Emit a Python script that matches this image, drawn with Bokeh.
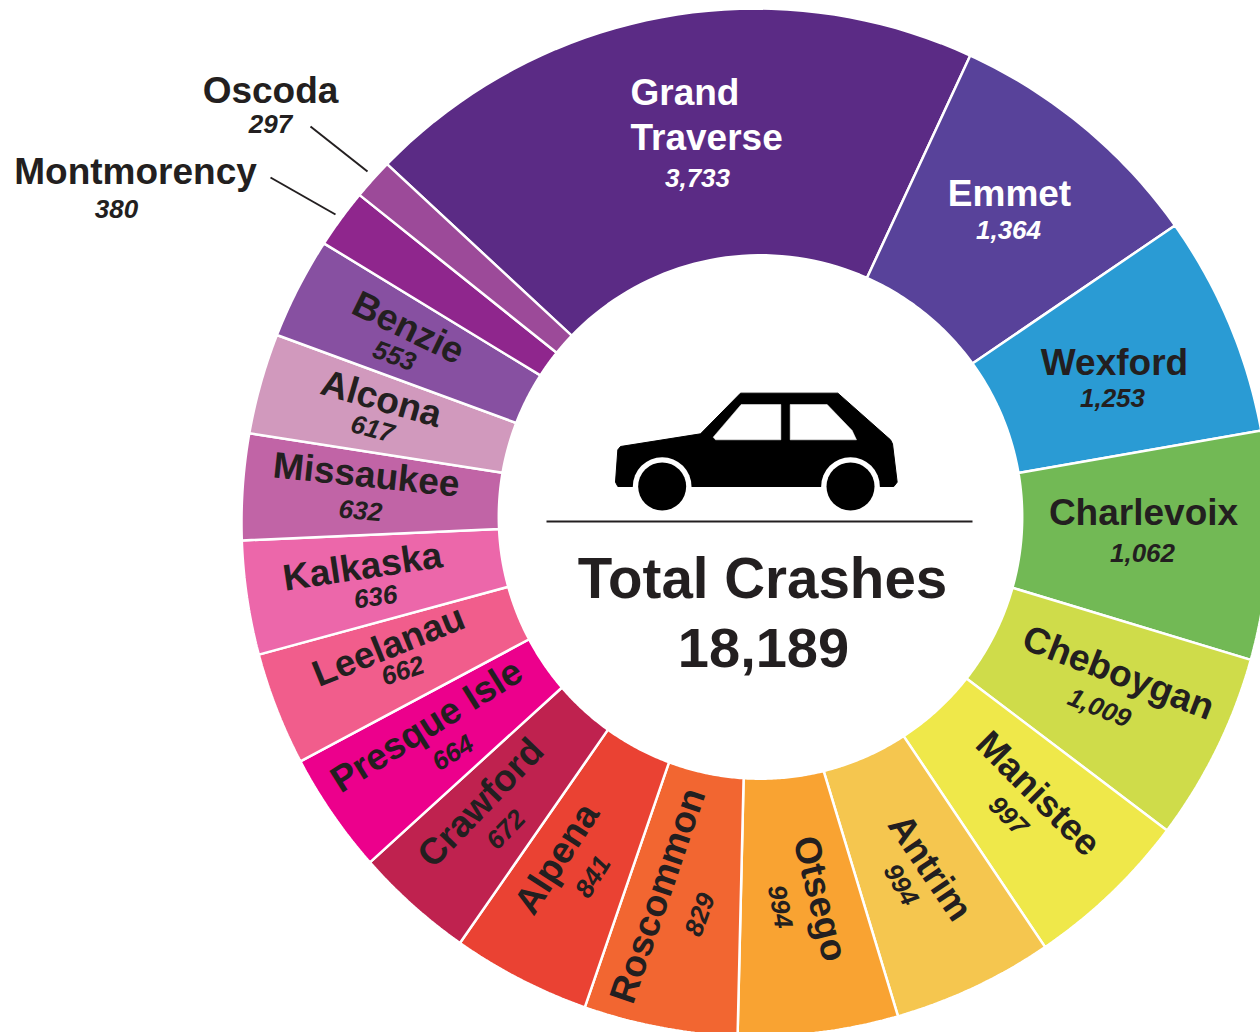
import math
from bokeh.plotting import figure
from bokeh.models import Range1d, ColumnDataSource
from bokeh.core.properties import value
from bokeh.embed import file_html
from bokeh.resources import INLINE

# ---- data, clockwise from the top of the ring ----
counties = ["Grand Traverse", "Emmet", "Wexford", "Charlevoix", "Cheboygan", "Manistee", "Antrim", "Otsego",
            "Roscommon", "Alpena", "Crawford", "Presque Isle", "Leelanau", "Kalkaska", "Missaukee", "Alcona",
            "Benzie", "Montmorency", "Oscoda"]
crashes = [3733, 1364, 1253, 1062, 1009, 997, 994, 994, 829, 841, 672, 664, 662, 636, 632, 617, 553, 380, 297]
# size of each slice as drawn in the picture, in degrees (not strictly proportional to the counts):
# along the outer edge and along the inner edge of the ring
outer_sweep = [70.5, 30.0, 25.0, 25.8, 21.3, 18.9, 18.2, 18.1, 17.4, 15.7, 13.5, 13.7, 12.8, 12.9, 12.0, 11.4,
               11.5, 6.7, 4.6]
inner_sweep = [70.2, 30.1, 26.2, 25.4, 22.4, 18.75, 19.2, 17.65, 16.75, 15.2, 13.7, 12.8, 12.4, 12.8, 12.4, 11.3,
               11.7, 6.1, 5.0]
colors = ["#5b2b85", "#58429a", "#2a9bd4", "#72b955", "#cfdc4a", "#efe84a", "#f5c64f", "#f9a332", "#f26631",
          "#ea4233", "#bf224f", "#ec008c", "#f15d8c", "#ec67aa", "#c164a6", "#d199bd", "#8750a1", "#8f268d",
          "#9c4a99"]
total_label = "Total Crashes"
total_value = "18,189"

W, H = 1260, 1032
def Y(py):
    return H - py

p = figure(width=W, height=H, x_range=Range1d(0, W), y_range=Range1d(0, H),
           output_backend="svg", toolbar_location=None, min_border=0)
p.axis.visible = False
p.grid.visible = False
p.outline_line_color = None
p.background_fill_color = "white"

# ---- ring ----
OUT_C, OUT_R, OUT_START = (755, Y(522)), 514, 135.8
IN_C, IN_R, IN_START = (760, Y(516.5)), 261.7, 136.2

def arc(c, r, a0, a1, n=40):
    pts = [math.radians(a0 + (a1 - a0) * i / n) for i in range(n + 1)]
    return [c[0] + r * math.cos(t) for t in pts], [c[1] + r * math.sin(t) for t in pts]

xs, ys = [], []
ao, ai = OUT_START, IN_START
for so, si in zip(outer_sweep, inner_sweep):
    ox, oy = arc(OUT_C, OUT_R, ao, ao - so)
    ix, iy = arc(IN_C, IN_R, ai - si, ai)
    xs.append(ox + ix)
    ys.append(oy + iy)
    ao -= so
    ai -= si
p.patches(xs="xs", ys="ys", fill_color="color", line_color="white", line_width=2.5,
          source=ColumnDataSource(dict(xs=xs, ys=ys, color=colors)))

# ---- car ----
def cx(z): return 600 + z / 3
def cy(z): return Y(380 + z / 3)
body = [(52, 208), (60, 198), (300, 160), (420, 38), (712, 38), (870, 178), (876, 190), (890, 305), (880, 318),
        (52, 318), (45, 305)]
p.patch([cx(a) for a, b in body], [cy(b) for a, b in body], fill_color="black", line_color="black", line_width=1)
for zx in (185, 750):
    p.circle(x=cx(zx), y=cy(318), radius=88 / 3, fill_color="white", line_color=None)
    p.circle(x=cx(zx), y=cy(318), radius=72 / 3, fill_color="black", line_color=None)
for win in ([(338, 170), (422, 72), (541, 72), (541, 178), (345, 178)],
            [(569, 72), (680, 72), (755, 150), (768, 178), (569, 178)]):
    p.patch([cx(a) for a, b in win], [cy(b) for a, b in win], fill_color="white", line_color="white", line_width=0.5)
p.line([546, 972], [Y(521), Y(521)], line_color="#231f20", line_width=2)

# ---- leader lines ----
p.line([310, 367], [Y(126), Y(171)], line_color="#231f20", line_width=2)
p.line([270, 335], [Y(177), Y(214)], line_color="#231f20", line_width=2)

# ---- texts ----
DARK = "#231f20"
def txt(x, y, s, size, angle=0, color=DARK, style="bold", align="center"):
    p.text(x=[x], y=[Y(y)], text=[s], angle=[angle], angle_units="deg", text_color=color,
           text_font=value("Liberation Sans"), text_font_size=value(f"{size}px"), text_font_style=style,
           text_align=align, text_baseline="middle")

name_pos = {
    "Emmet": (1009, 193, 0), "Wexford": (1114, 362, 0), "Charlevoix": (1143, 512, 0),
    "Cheboygan": (1118, 672, -21), "Manistee": (1038, 793, -45), "Antrim": (930, 867, -56),
    "Otsego": (820, 898, -76), "Roscommon": (657, 895, 71), "Alpena": (556, 858, 57),
    "Crawford": (480, 802, 46), "Presque Isle": (426, 725, 32), "Leelanau": (388, 645, 22),
    "Kalkaska": (362, 566, 8.5), "Missaukee": (366, 474, -6), "Alcona": (381, 398, -16),
    "Benzie": (408, 327, -26), "Oscoda": (270, 90, 0), "Montmorency": (135, 171, 0),
}
val_pos = {
    "Grand Traverse": (697, 177, 0), "Emmet": (1008, 229, 0), "Wexford": (1112, 397, 0),
    "Charlevoix": (1142, 552, 0), "Cheboygan": (1099, 707, -22), "Manistee": (1008, 815, -45),
    "Antrim": (901, 884, -60), "Otsego": (780, 906, -80), "Roscommon": (699, 914, 70),
    "Alpena": (592, 876, 58), "Crawford": (505, 829, 46), "Presque Isle": (452, 752, 32),
    "Leelanau": (402, 670, 18), "Kalkaska": (375, 596, 8), "Missaukee": (360, 510, -5),
    "Alcona": (372, 428, -15), "Benzie": (394, 355, -20), "Oscoda": (270, 123, 0),
    "Montmorency": (116, 208, 0),
}
white_names = {"Grand Traverse", "Emmet"}
txt(630, 92, "Grand", 37, color="white", align="left")
txt(630, 137, "Traverse", 37, color="white", align="left")
for name, v in zip(counties, crashes):
    col = "white" if name in white_names else DARK
    if name in name_pos:
        x, y, ang = name_pos[name]
        txt(x, y, name, 37, ang, col)
    x, y, ang = val_pos[name]
    txt(x, y, f"{v:,}", 26, ang, col, "bold italic")

txt(762, 578, total_label, 56.5)
txt(763, 647, total_value, 56)

open("out.html", "w").write(file_html(p, INLINE))
